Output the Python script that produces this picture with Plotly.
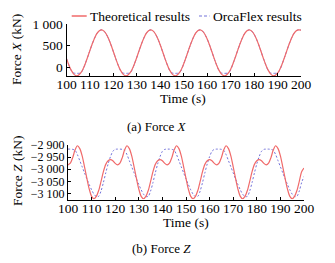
import plotly.graph_objects as go

W, H = 335, 263

time_s = list(range(100, 201))

x_ticks = [100, 110, 120, 130, 140, 150, 160, 170, 180, 190, 200]
x_tick_text = ["100", "110", "120", "130", "140", "150", "160", "170", "180", "190", "200"]

fx_ticks = [0, 500, 1000]
fx_tick_text = ["0", "500", "1 000"]

fz_ticks = [-3100, -3050, -3000, -2950, -2900]
fz_tick_text = ["\u22123 100", "\u22123 050", "\u22123 000", "\u22122 950", "\u22122 900"]

fx_theoretical = [
    201, 56, -64, -149, -191, -186, -136, -42, 84, 233, 391, 543, 678, 782, 846, 865, 836, 764, 653, 514, 359,
    201, 56, -64, -149, -191, -186, -136, -42, 84, 233, 391, 543, 678, 782, 846, 865, 836, 764, 653, 514, 359,
    201, 56, -64, -149, -191, -186, -136, -42, 84, 233, 391, 543, 678, 782, 846, 865, 836, 764, 653, 514, 359,
    201, 56, -64, -149, -191, -186, -136, -42, 84, 233, 391, 543, 678, 782, 846, 865, 836, 764, 653, 514, 359,
    201, 56, -64, -149, -191, -186, -136, -42, 84, 233, 391, 543, 678, 782, 846, 865, 860,
]

fx_orcaflex = [
    201, 56, -75, -130, -138, -138, -132, -60, 84, 233, 391, 543, 678, 782, 846, 865, 836, 764, 653, 514, 359,
    201, 56, -75, -130, -138, -138, -132, -60, 84, 233, 391, 543, 678, 782, 846, 865, 836, 764, 653, 514, 359,
    201, 56, -75, -130, -138, -138, -132, -60, 84, 233, 391, 543, 678, 782, 846, 865, 836, 764, 653, 514, 359,
    201, 56, -75, -130, -138, -138, -132, -60, 84, 233, 391, 543, 678, 782, 846, 865, 836, 764, 653, 514, 359,
    201, 56, -75, -130, -138, -138, -132, -60, 84, 233, 391, 543, 678, 782, 846, 865, 860,
]

fz_theoretical = [
    -2982, -2975, -2952, -2920, -2903, -2915, -2945, -2990, -3038, -3082, -3112, -3122, -3112, -3088, -3050, -3010, -2980, -2965, -2960, -2965, -2976,
    -2982, -2975, -2952, -2920, -2903, -2915, -2945, -2990, -3038, -3082, -3112, -3122, -3112, -3088, -3050, -3010, -2980, -2965, -2960, -2965, -2976,
    -2982, -2975, -2952, -2920, -2903, -2915, -2945, -2990, -3038, -3082, -3112, -3122, -3112, -3088, -3050, -3010, -2980, -2965, -2960, -2965, -2976,
    -2982, -2975, -2952, -2920, -2903, -2915, -2945, -2990, -3038, -3082, -3112, -3122, -3112, -3088, -3050, -3010, -2980, -2965, -2960, -2965, -2976,
    -2982, -2975, -2952, -2920, -2903, -2915, -2945, -2990, -3038, -3082, -3112, -3122, -3112, -3088, -3050, -3010, -2995,
]

fz_orcaflex = [
    -2917, -2917, -2918, -2922, -2940, -2965, -2990, -3015, -3040, -3063, -3085, -3103, -3113, -3112, -3090, -3055, -3015, -2978, -2948, -2926, -2918,
    -2917, -2917, -2918, -2922, -2940, -2965, -2990, -3015, -3040, -3063, -3085, -3103, -3113, -3112, -3090, -3055, -3015, -2978, -2948, -2926, -2918,
    -2917, -2917, -2918, -2922, -2940, -2965, -2990, -3015, -3040, -3063, -3085, -3103, -3113, -3112, -3090, -3055, -3015, -2978, -2948, -2926, -2918,
    -2917, -2917, -2918, -2922, -2940, -2965, -2990, -3015, -3040, -3063, -3085, -3103, -3113, -3112, -3090, -3055, -3015, -2978, -2948, -2926, -2918,
    -2917, -2917, -2918, -2922, -2940, -2965, -2990, -3015, -3040, -3063, -3085, -3103, -3113, -3112, -3090, -3055, -3030,
]

RED = "#F06A6A"
BLUE = "#7474DA"
FONT = "Liberation Serif"


def px(x):
    return x / W


def py(y):
    return 1 - y / H


fig = go.Figure()
fig.add_trace(go.Scatter(x=time_s, y=fx_orcaflex, mode="lines", xaxis="x", yaxis="y",
                         line=dict(color=BLUE, width=1, dash="3px,2px", shape="spline", smoothing=0.8),
                         showlegend=False))
fig.add_trace(go.Scatter(x=time_s, y=fx_theoretical, mode="lines", xaxis="x", yaxis="y",
                         line=dict(color=RED, width=1.2, shape="spline", smoothing=0.8),
                         showlegend=False))
fig.add_trace(go.Scatter(x=time_s, y=fz_orcaflex, mode="lines", xaxis="x2", yaxis="y2",
                         line=dict(color=BLUE, width=1, dash="2px,2px", shape="spline", smoothing=0.8),
                         showlegend=False))
fig.add_trace(go.Scatter(x=time_s, y=fz_theoretical, mode="lines", xaxis="x2", yaxis="y2",
                         line=dict(color=RED, width=1.2, shape="spline", smoothing=0.8),
                         showlegend=False))

axis_common = dict(showline=True, linecolor="black", linewidth=1, ticks="inside", ticklen=3,
                   tickcolor="black", tickwidth=1, showgrid=False, zeroline=False,
                   tickangle=0, mirror=False, automargin=False)
xfont = dict(family=FONT, size=13.5, color="black")
yfont = dict(family=FONT, size=13.5, color="black")
y2font = dict(family=FONT, size=12, color="black")

fig.update_layout(
    width=W, height=H,
    margin=dict(l=0, r=0, t=0, b=0, autoexpand=False),
    paper_bgcolor="white", plot_bgcolor="white",
    font=dict(family=FONT, size=13, color="black"),
    xaxis=dict(domain=[px(66.5), px(301)], range=[100, 200], anchor="y", ticklabelstandoff=-4,
               tickvals=x_ticks, ticktext=x_tick_text, tickfont=xfont, **axis_common),
    yaxis=dict(domain=[py(76), py(24)], range=[-200, 1000], anchor="x",
               tickvals=fx_ticks, ticktext=fx_tick_text, tickfont=yfont, **axis_common),
    xaxis2=dict(domain=[px(68), px(304)], range=[100, 200], anchor="y2", ticklabelstandoff=-4,
                tickvals=x_ticks, ticktext=x_tick_text, tickfont=xfont, **axis_common),
    yaxis2=dict(domain=[py(199.5), py(145)], range=[-3125, -2900], anchor="x2",
                tickvals=fz_ticks, ticktext=fz_tick_text, tickfont=y2font, **axis_common),
)

# manual legend
fig.add_shape(type="line", xref="paper", yref="paper", x0=px(71.7), x1=px(86.7), y0=py(16), y1=py(16),
              line=dict(color=RED, width=1.5))
fig.add_shape(type="line", xref="paper", yref="paper", x0=px(199), x1=px(209.5), y0=py(16), y1=py(16),
              line=dict(color=BLUE, width=1.2, dash="3px,2px"))

annos = [
    dict(text="Theoretical results", x=px(88), y=py(16.5), xanchor="left", yanchor="middle", size=13.5),
    dict(text="OrcaFlex results", x=px(210.7), y=py(16.5), xanchor="left", yanchor="middle", size=13.5),
    dict(text="Force <i>X</i> (kN)", x=px(17), y=py(50), xanchor="center", yanchor="middle", textangle=-90, size=13.5),
    dict(text="Time (s)", x=px(183), y=py(98.5), xanchor="center", yanchor="middle", size=13.5),
    dict(text="(a) Force <i>X</i>", x=px(157), y=py(126), xanchor="center", yanchor="middle", size=13),
    dict(text="Force <i>Z</i> (kN)", x=px(17), y=py(171), xanchor="center", yanchor="middle", textangle=-90, size=13.5),
    dict(text="Time (s)", x=px(186), y=py(222), xanchor="center", yanchor="middle", size=13.5),
    dict(text="(b) Force <i>Z</i>", x=px(161), y=py(248.5), xanchor="center", yanchor="middle", size=13),
]
for a in annos:
    s = a.pop("size")
    fig.add_annotation(xref="paper", yref="paper", showarrow=False,
                       font=dict(family=FONT, size=s, color="black"), **a)

fig.write_html("out.html", config={"displayModeBar": False},
               post_script="document.body.style.margin='0';document.body.style.overflow='hidden';")
